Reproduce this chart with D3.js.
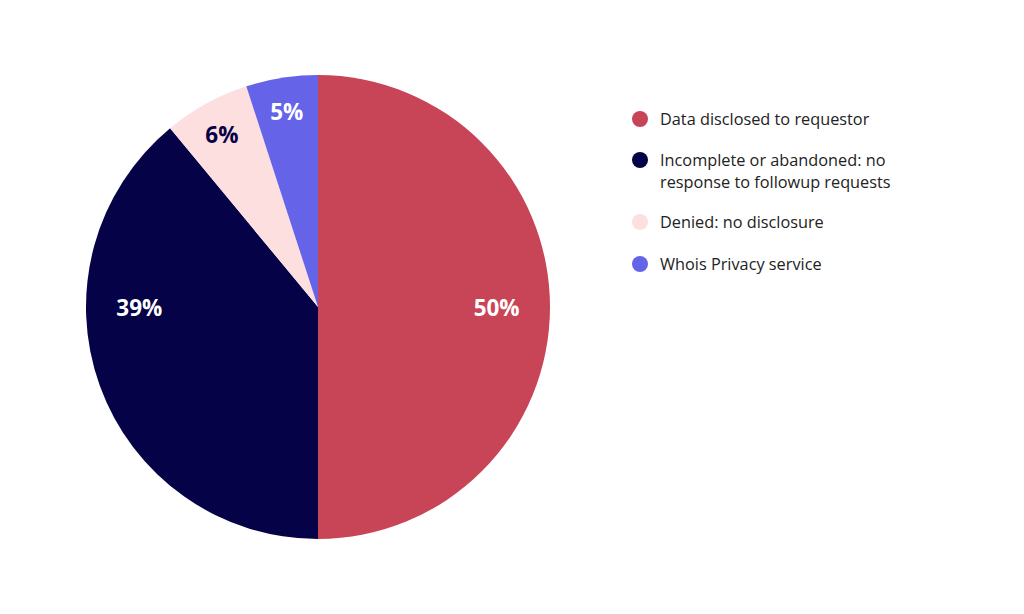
<!DOCTYPE html>
<html>
<head>
<meta charset="utf-8">
<script src="https://cdn.jsdelivr.net/npm/d3@7"></script>
<style>
  body { margin: 0; background: #fff; }
  svg { display: block; font-family: "Open Sans", Lato, sans-serif; }
</style>
</head>
<body>
<svg id="chart" width="1024" height="614"></svg>
<script>
const categories = [
  "Data disclosed to requestor",
  "Incomplete or abandoned: no response to followup requests",
  "Denied: no disclosure",
  "Whois Privacy service"
];
const values = [50, 39, 6, 5];
const colors = ["#c84457", "#050247", "#fddfe0", "#6563e8"];
const labelColors = ["#ffffff", "#ffffff", "#050247", "#ffffff"];
const legendLines = [
  ["Data disclosed to requestor"],
  ["Incomplete or abandoned: no", "response to followup requests"],
  ["Denied: no disclosure"],
  ["Whois Privacy service"]
];

const svg = d3.select("#chart");
const cx = 318, cy = 307, r = 232;

const data = categories.map((c, i) => ({ name: c, value: values[i], i }));

const pie = d3.pie().sort(null).value((d) => d.value);
const arc = d3.arc().innerRadius(0).outerRadius(r);
const arcs = pie(data);

const g = svg.append("g").attr("transform", `translate(${cx},${cy})`);

g.selectAll("path.slice")
  .data(arcs)
  .enter()
  .append("path")
  .attr("class", "slice")
  .attr("d", arc)
  .attr("fill", (d) => colors[d.data.i]);

// big slices get their label on the horizontal mid line, small ones near the rim
g.selectAll("text.label")
  .data(arcs)
  .enter()
  .append("text")
  .attr("class", "label")
  .attr("text-anchor", "middle")
  .attr("dominant-baseline", "central")
  .attr("font-size", "22.5px")
  .attr("font-weight", "bold")
  .attr("fill", (d) => labelColors[d.data.i])
  .attr("transform", (d) => {
    const mid = (d.startAngle + d.endAngle) / 2;
    if (d.data.value > 25) {
      const side = Math.sin(mid) >= 0 ? 1 : -1;
      return `translate(${side * r * 0.77},0)`;
    }
    const rr = r * 0.86;
    return `translate(${Math.sin(mid) * rr},${-Math.cos(mid) * rr + 2})`;
  })
  .text((d) => `${d.data.value}%`);

const legendY = [119, 160, 222, 264];
const legend = svg.append("g").attr("transform", "translate(640,0)");

const items = legend
  .selectAll("g.item")
  .data(data)
  .enter()
  .append("g")
  .attr("class", "item")
  .attr("transform", (d) => `translate(0,${legendY[d.i]})`);

items
  .append("circle")
  .attr("r", 8)
  .attr("fill", (d) => colors[d.i]);

items
  .append("text")
  .attr("x", 20)
  .attr("y", 0)
  .attr("font-size", "16.3px")
  .attr("fill", "#222")
  .selectAll("tspan")
  .data((d) => legendLines[d.i])
  .enter()
  .append("tspan")
  .attr("x", 20)
  .attr("dy", (d, j) => (j === 0 ? "0.35em" : "22px"))
  .text((d) => d);
</script>
</body>
</html>
